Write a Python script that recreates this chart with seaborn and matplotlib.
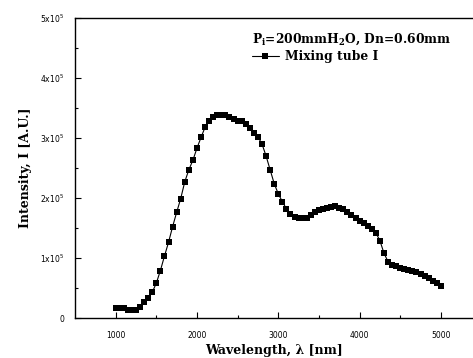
import matplotlib
matplotlib.use("Agg")
import matplotlib.pyplot as plt
import seaborn as sns
import numpy as np
import pandas as pd
from matplotlib.ticker import FixedLocator, FixedFormatter

wavelength = list(range(1000, 5001, 50))
intensity_e5 = [
    0.17, 0.17, 0.16, 0.14, 0.13, 0.14, 0.19, 0.26, 0.33, 0.43,
    0.58, 0.79, 1.03, 1.26, 1.52, 1.76, 1.99, 2.27, 2.47, 2.63,
    2.83, 3.01, 3.18, 3.28, 3.35, 3.38, 3.39, 3.38, 3.35, 3.31,
    3.29, 3.28, 3.23, 3.16, 3.09, 3.02, 2.90, 2.70, 2.47, 2.24,
    2.07, 1.94, 1.82, 1.74, 1.69, 1.67, 1.66, 1.67, 1.71, 1.76,
    1.80, 1.82, 1.84, 1.85, 1.86, 1.84, 1.81, 1.77, 1.72, 1.67,
    1.62, 1.58, 1.53, 1.48, 1.42, 1.29, 1.08, 0.94, 0.89, 0.86,
    0.84, 0.82, 0.80, 0.78, 0.76, 0.73, 0.70, 0.66, 0.62, 0.58,
    0.53,
]
intensity = [v * 1e5 for v in intensity_e5]

x_ticks = [1000, 2000, 3000, 4000, 5000]
x_tick_labels = ["1000", "2000", "3000", "4000", "5000"]
y_ticks = [0, 1e5, 2e5, 3e5, 4e5, 5e5]
y_tick_labels = ["0", r"1x10$^5$", r"2x10$^5$", r"3x10$^5$", r"4x10$^5$", r"5x10$^5$"]

series_name = "Mixing tube I"
legend_title = r"P$_\mathregular{i}$=200mmH$_\mathregular{2}$O, Dn=0.60mm"

df = pd.DataFrame({"Wavelength": wavelength, "Intensity": intensity,
                   "series": [series_name] * len(wavelength)})

sns.set_style("ticks")
plt.rcParams['mathtext.default'] = 'regular'
plt.rcParams['text.color'] = 'black'
plt.rcParams['axes.labelcolor'] = 'black'
plt.rcParams['xtick.color'] = 'black'
plt.rcParams['ytick.color'] = 'black'
fig = plt.figure(figsize=(4.73, 3.58), dpi=100)
ax = fig.add_axes([75 / 473, 1 - 318 / 358, 1 - 75 / 473, 300 / 358])

sns.lineplot(data=df, x="Wavelength", y="Intensity", hue="series",
             palette=["black"], marker="s", markersize=4.8, markeredgewidth=0,
             linewidth=0.8, ax=ax, legend=True)

ax.set_xlim(500, 5395)
ax.set_ylim(0, 5e5)

ax.xaxis.set_major_locator(FixedLocator(x_ticks))
ax.xaxis.set_major_formatter(FixedFormatter(x_tick_labels))
ax.xaxis.set_minor_locator(FixedLocator([1500, 2500, 3500, 4500]))
ax.yaxis.set_major_locator(FixedLocator(y_ticks))
ax.yaxis.set_major_formatter(FixedFormatter(y_tick_labels))
ax.yaxis.set_minor_locator(FixedLocator([0.5e5, 1.5e5, 2.5e5, 3.5e5, 4.5e5]))

ax.tick_params(axis="both", which="major", direction="in", length=4, width=0.8,
               labelsize=5.5, colors="black", pad=8)
ax.tick_params(axis="both", which="minor", direction="in", length=2, width=0.8)
ax.tick_params(axis="x", which="major", pad=9)
for lab in ax.get_xticklabels() + ax.get_yticklabels():
    lab.set_family("DejaVu Sans")

for s in ["left", "bottom", "top"]:
    ax.spines[s].set_linewidth(1.0)
    ax.spines[s].set_color("black")
ax.spines["right"].set_visible(False)

ax.set_xlabel("Wavelength, λ [nm]", fontsize=9, fontweight="bold",
              family="DejaVu Serif", labelpad=3, color="black")
ax.set_ylabel("Intensity, I [A.U.]", fontsize=9, fontweight="bold",
              family="DejaVu Serif", labelpad=6, color="black")

handles, labels = ax.get_legend_handles_labels()
leg = ax.legend(handles, labels, title=legend_title, frameon=False,
                loc="upper left", bbox_to_anchor=(247 / 473, 1 - 27 / 358),
                bbox_transform=fig.transFigure,
                prop={"family": "DejaVu Serif", "weight": "bold", "size": 8.8},
                title_fontproperties={"family": "DejaVu Serif", "weight": "bold", "size": 8.8},
                handlelength=2.2, handletextpad=0.5, borderaxespad=0, labelspacing=0.25,
                labelcolor="black")
leg._legend_box.align = "left"
leg.get_title().set_color("black")

fig.savefig("out.png", dpi=100)
